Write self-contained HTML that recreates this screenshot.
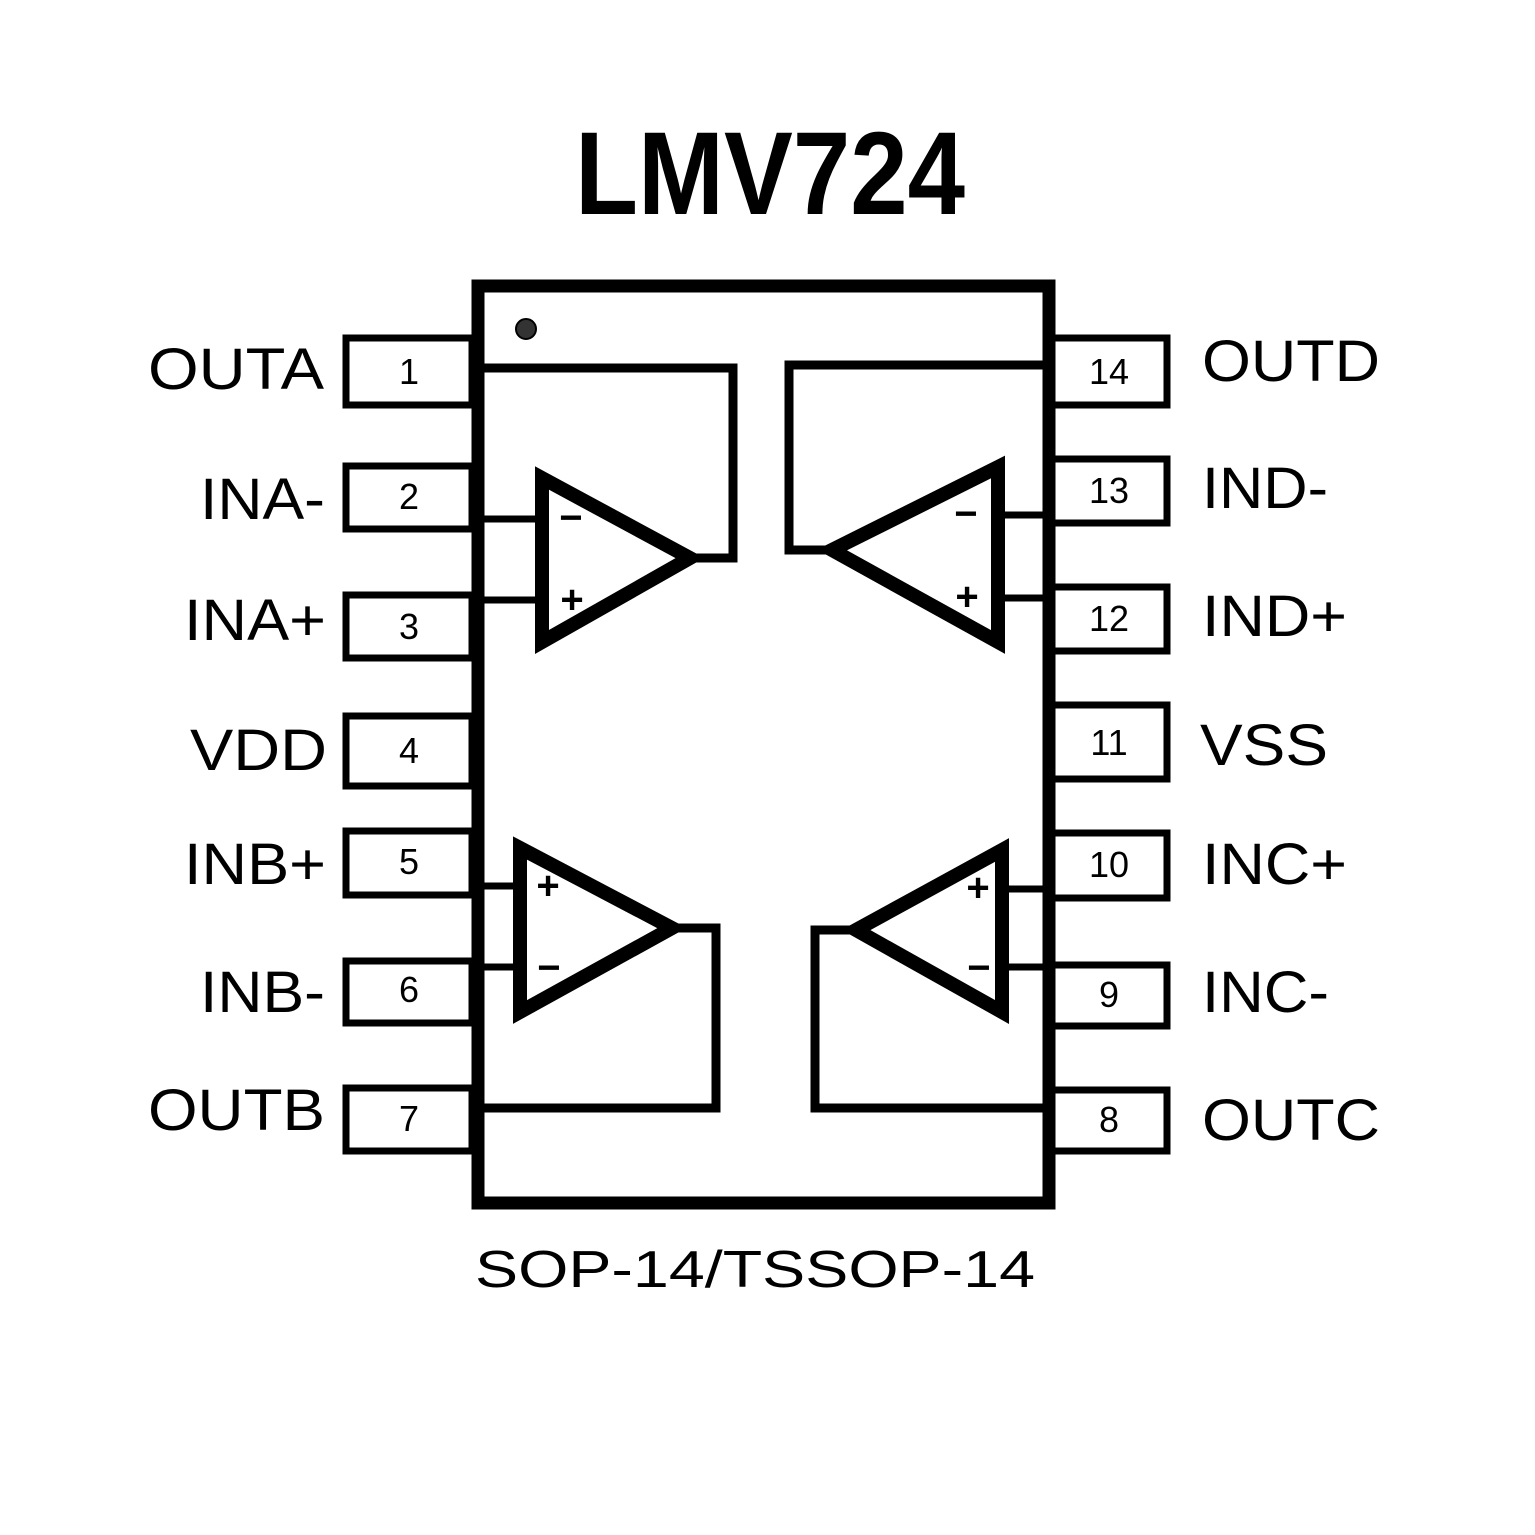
<!DOCTYPE html>
<html><head><style>html,body{margin:0;padding:0;background:#fff}svg{display:block}</style></head>
<body>
<svg width="1535" height="1535" viewBox="0 0 1535 1535" xmlns="http://www.w3.org/2000/svg" font-family="Liberation Sans, Arial, sans-serif">
<rect width="1535" height="1535" fill="#fff"/>
<text x="770" y="214" font-size="118" font-weight="bold" text-anchor="middle" textLength="390" lengthAdjust="spacingAndGlyphs">LMV724</text>

<g fill="none" stroke="#000" stroke-width="7">
<rect x="346" y="338" width="126" height="67"/>
<rect x="346" y="466" width="126" height="63"/>
<rect x="346" y="595" width="126" height="63"/>
<rect x="346" y="716" width="126" height="70"/>
<rect x="346" y="831" width="126" height="64"/>
<rect x="346" y="961" width="126" height="62"/>
<rect x="346" y="1088" width="126" height="63"/>
<rect x="1049" y="338" width="118" height="67"/>
<rect x="1049" y="459" width="118" height="64"/>
<rect x="1049" y="587" width="118" height="64"/>
<rect x="1049" y="705" width="118" height="74"/>
<rect x="1049" y="833" width="118" height="65"/>
<rect x="1049" y="965" width="118" height="61"/>
<rect x="1049" y="1090" width="118" height="61"/>
</g>
<rect x="478" y="286" width="571" height="917" fill="#fff" stroke="#000" stroke-width="13"/>
<circle cx="526" cy="329" r="10" fill="#333" stroke="#000" stroke-width="2"/>

<g fill="none" stroke="#000" stroke-linejoin="miter">
<polyline points="484,368 733,368 733,558 690,558" stroke-width="9"/>
<line x1="484" y1="519" x2="540" y2="519" stroke-width="7"/>
<line x1="484" y1="600" x2="540" y2="600" stroke-width="7"/>
<polygon points="542,478 690,558 542,642" stroke-width="14"/>
<polyline points="1043,365 789,365 789,550 832,550" stroke-width="9"/>
<line x1="1000" y1="515" x2="1043" y2="515" stroke-width="7"/>
<line x1="1000" y1="598" x2="1043" y2="598" stroke-width="7"/>
<polygon points="998,467 832,550 998,642" stroke-width="14"/>
<polyline points="484,1108 716,1108 716,928 672,928" stroke-width="9"/>
<line x1="484" y1="886" x2="520" y2="886" stroke-width="7"/>
<line x1="484" y1="967" x2="520" y2="967" stroke-width="7"/>
<polygon points="520,848 672,928 520,1012" stroke-width="14"/>
<polyline points="1043,1108 815,1108 815,930 856,930" stroke-width="9"/>
<line x1="1002" y1="889" x2="1043" y2="889" stroke-width="7"/>
<line x1="1002" y1="967" x2="1043" y2="967" stroke-width="7"/>
<polygon points="1002,850 856,930 1002,1012" stroke-width="14"/>
</g>
<g fill="#000" font-weight="bold" font-size="40" text-anchor="middle">
<text x="571" y="531">−</text><text x="572" y="613">+</text>
<text x="966" y="527">−</text><text x="967" y="610">+</text>
<text x="548" y="899">+</text><text x="549" y="981">−</text>
<text x="978" y="901">+</text><text x="979" y="981">−</text>
</g>

<g font-size="36" text-anchor="middle" fill="#000">
<text x="409" y="384">1</text>
<text x="409" y="509">2</text>
<text x="409" y="639">3</text>
<text x="409" y="763">4</text>
<text x="409" y="874">5</text>
<text x="409" y="1002">6</text>
<text x="409" y="1131">7</text>
<text x="1109" y="384">14</text>
<text x="1109" y="503">13</text>
<text x="1109" y="631">12</text>
<text x="1109" y="755">11</text>
<text x="1109" y="877">10</text>
<text x="1109" y="1007">9</text>
<text x="1109" y="1132">8</text>
</g>

<g font-size="58" fill="#000" lengthAdjust="spacingAndGlyphs">
<text x="148" y="389" textLength="176" lengthAdjust="spacingAndGlyphs">OUTA</text>
<text x="200" y="519" textLength="125" lengthAdjust="spacingAndGlyphs">INA-</text>
<text x="184" y="640" textLength="142" lengthAdjust="spacingAndGlyphs">INA+</text>
<text x="190" y="770" textLength="137" lengthAdjust="spacingAndGlyphs">VDD</text>
<text x="184" y="884" textLength="142" lengthAdjust="spacingAndGlyphs">INB+</text>
<text x="200" y="1012" textLength="125" lengthAdjust="spacingAndGlyphs">INB-</text>
<text x="148" y="1130" textLength="177" lengthAdjust="spacingAndGlyphs">OUTB</text>
<text x="1202" y="381" textLength="178" lengthAdjust="spacingAndGlyphs">OUTD</text>
<text x="1202" y="508" textLength="126" lengthAdjust="spacingAndGlyphs">IND-</text>
<text x="1202" y="636" textLength="145" lengthAdjust="spacingAndGlyphs">IND+</text>
<text x="1200" y="765" textLength="128" lengthAdjust="spacingAndGlyphs">VSS</text>
<text x="1202" y="884" textLength="145" lengthAdjust="spacingAndGlyphs">INC+</text>
<text x="1202" y="1012" textLength="127" lengthAdjust="spacingAndGlyphs">INC-</text>
<text x="1202" y="1140" textLength="178" lengthAdjust="spacingAndGlyphs">OUTC</text>
</g>
<text x="755" y="1287" font-size="52" text-anchor="middle" textLength="560" lengthAdjust="spacingAndGlyphs">SOP-14/TSSOP-14</text>
</svg>
</body></html>
